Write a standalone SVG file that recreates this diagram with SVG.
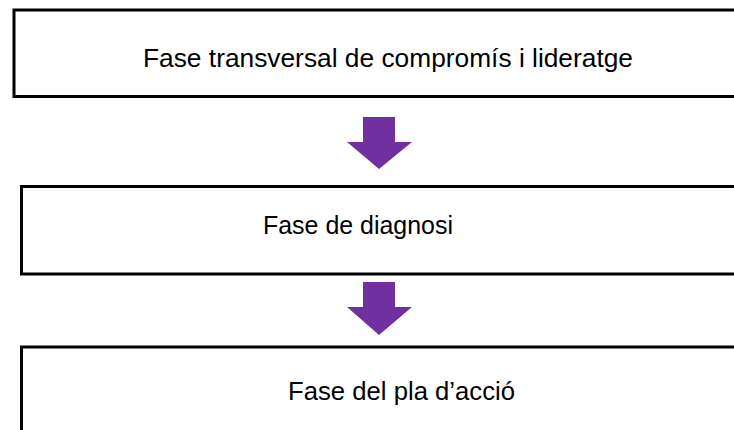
<svg xmlns="http://www.w3.org/2000/svg" width="734" height="430" viewBox="0 0 734 430">
<style>
.box{fill:#ffffff;stroke:#000000;stroke-width:3}
.lbl{font-family:"Liberation Sans",Arial,sans-serif;font-size:26px;fill:#000000}
.arr{fill:#7030A0}
</style>
<rect width="734" height="430" fill="#ffffff"/>
<g id="node-commitment">
<rect class="box" x="14" y="10" width="740" height="86.5"/>
<text class="lbl" x="143" y="67" textLength="490" lengthAdjust="spacingAndGlyphs">Fase transversal de compromís i lideratge</text>
</g>
<g id="node-diagnosis">
<rect class="box" x="21.5" y="186.5" width="740" height="87.5"/>
<text class="lbl" x="263" y="234" textLength="190" lengthAdjust="spacingAndGlyphs">Fase de diagnosi</text>
</g>
<g id="node-action-plan">
<rect class="box" x="21.5" y="347" width="740" height="120"/>
<text class="lbl" x="288" y="400" textLength="227" lengthAdjust="spacingAndGlyphs">Fase del pla d’acció</text>
</g>
<g id="connectors">
<polygon class="arr" points="363,117 395,117 395,142 412,142 379,169 347,142 363,142"/>
<polygon class="arr" points="363,282 395,282 395,307 412,307 379,335 347,307 363,307"/>
</g>
</svg>
